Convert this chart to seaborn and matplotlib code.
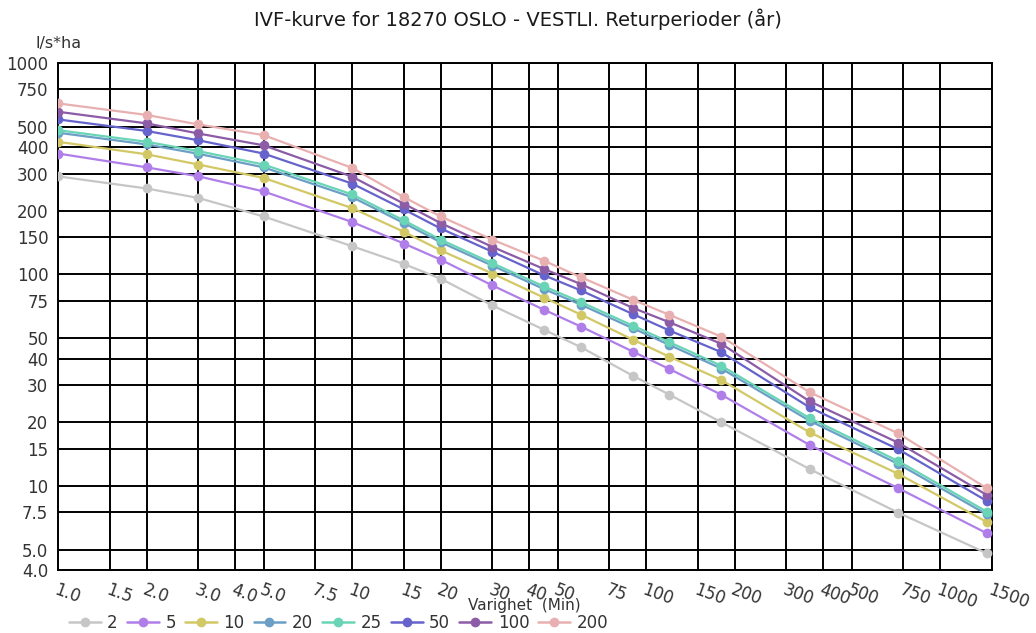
import numpy as np
import pandas as pd
import matplotlib
matplotlib.use("Agg")
import matplotlib.pyplot as plt
import seaborn as sns

# Durations (minutes)
durations = [1, 2, 3, 5, 10, 15, 20, 30, 45, 60, 90, 120, 180, 360, 720, 1440]

# Intensity (l/s*ha) per return period (years)
rp_2 = [291, 255, 230, 188, 136, 112, 95.5, 71.3, 54.7, 45.3, 33.2, 27.0, 20.0, 12.0, 7.47, 4.80]
rp_5 = [373, 321, 291, 247, 177, 140, 117.5, 88.7, 68.0, 56.7, 43.2, 35.7, 27.0, 15.6, 9.75, 5.97]
rp_10 = [424, 370, 331, 286, 206, 159, 130, 101, 77.6, 64.6, 49.2, 40.8, 31.7, 17.9, 11.4, 6.75]
rp_20 = [468, 412, 372, 321, 232, 175, 142, 110, 85.2, 71.9, 55.7, 46.4, 35.9, 20.3, 12.7, 7.33]
rp_25 = [481, 424, 383, 331, 239, 180, 146, 113, 87.7, 74.0, 57.3, 47.8, 37.0, 20.9, 13.1, 7.55]
rp_50 = [541, 477, 431, 373, 269, 203, 165, 128, 99.0, 84.0, 65.0, 54.3, 42.9, 23.5, 14.9, 8.49]
rp_100 = [588, 518, 464, 408, 290, 216, 175, 135, 106, 90.0, 69.5, 59.4, 47.0, 25.1, 16.0, 9.06]
rp_200 = [644, 568, 512, 456, 319, 232, 188, 146, 116, 97.0, 76.0, 64.4, 50.8, 27.7, 17.7, 9.75]

periods = ["2", "5", "10", "20", "25", "50", "100", "200"]
series = [rp_2, rp_5, rp_10, rp_20, rp_25, rp_50, rp_100, rp_200]
colors = ["#c6c6c6", "#b07ee8", "#d2c866", "#6b9fc6", "#6ad4b6",
          "#6664cc", "#8c5ca6", "#e8b0b0"]

x_ticks = [1, 1.5, 2, 3, 4, 5, 7.5, 10, 15, 20, 30, 40, 50, 75, 100, 150,
           200, 300, 400, 500, 750, 1000, 1500]
x_ticklabels = ["1.0", "1.5", "2.0", "3.0", "4.0", "5.0", "7.5", "10", "15",
                "20", "30", "40", "50", "75", "100", "150", "200", "300",
                "400", "500", "750", "1000", "1500"]
y_ticks = [4, 5, 7.5, 10, 15, 20, 30, 40, 50, 75, 100, 150, 200, 300, 400,
           500, 750, 1000]
y_ticklabels = ["4.0", "5.0", "7.5", "10", "15", "20", "30", "40", "50", "75",
                "100", "150", "200", "300", "400", "500", "750", "1000"]

df = pd.DataFrame({
    "Varighet": np.tile(durations, len(periods)),
    "Intensitet": np.concatenate(series),
    "Returperiode": np.repeat(periods, len(durations)),
})

sns.set_theme(style="white")
plt.rcParams["font.family"] = ["DejaVu Sans"]

fig = plt.figure(figsize=(10.36, 6.33), dpi=100)
ax = fig.add_axes([0.056, 0.0995, 0.9015, 0.801])

sns.lineplot(data=df, x="Varighet", y="Intensitet", hue="Returperiode",
             hue_order=periods, palette=colors, marker="o", markersize=7,
             markeredgewidth=0, linewidth=1.6, ax=ax, legend=False, zorder=3)

ax.set_xscale("log")
ax.set_yscale("log")
ax.set_xlim(1, 1500)
ax.set_ylim(4, 1000)

ax.set_xticks(x_ticks)
ax.set_xticklabels(x_ticklabels, rotation=-20, ha="left", va="top",
                   rotation_mode="anchor", fontsize=12, color="#333333")
ax.set_xticks([], minor=True)
ax.set_yticks(y_ticks)
ax.set_yticklabels(y_ticklabels, fontsize=12, color="#333333")
ax.set_yticks([], minor=True)

ax.grid(True, which="major", color="black", linewidth=1.4)
ax.set_axisbelow(True)
for sp in ax.spines.values():
    sp.set_color("black")
    sp.set_linewidth(1.4)
ax.tick_params(axis="both", which="major", direction="out", length=5,
               width=1.2, color="black", pad=2)
ax.tick_params(axis="x", pad=3)

ax.set_xlabel("")
ax.set_ylabel("")
fig.text(0.506, 0.044, "Varighet  (Min)", ha="center", va="center",
         fontsize=11, color="#333333")
fig.text(0.034, 0.932, "l/s*ha", ha="left", va="center", fontsize=11.5,
         color="#333333")
fig.text(0.5, 0.970, "IVF-kurve for 18270 OSLO - VESTLI. Returperioder (år)",
         ha="center", va="center", fontsize=14, color="#1a1a1a")

handles = [plt.Line2D([0], [0], color=c, marker="o", markersize=7,
                      markeredgewidth=0, linewidth=1.8, markevery=[0])
           for c in colors]
leg = fig.legend(handles, periods, loc="center left", ncol=len(periods),
                 bbox_to_anchor=(0.052, 0.016), frameon=False, fontsize=12,
                 handlelength=1.9, handletextpad=0.4, columnspacing=0.55,
                 labelcolor="#333333")

fig.savefig("out.png", dpi=100, facecolor="white")
